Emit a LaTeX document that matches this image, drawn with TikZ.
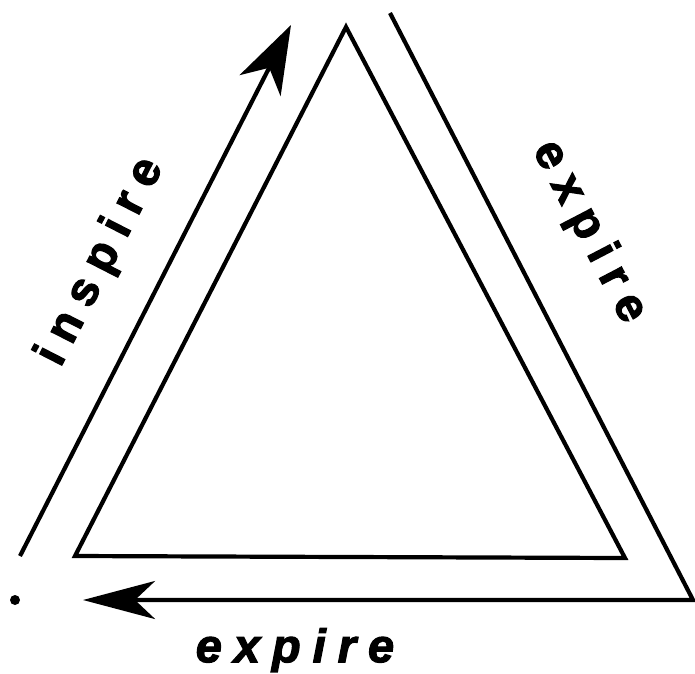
\documentclass[tikz,border=0pt]{standalone}
\usepackage{fontspec}
\setmainfont{Liberation Sans}
\newfontfamily\heavy{Liberation Sans Bold}[FakeBold=2.5, LetterSpace=25.5]
\newfontfamily\heavyit{Liberation Sans Bold Italic}[FakeBold=2.5, LetterSpace=25.5]
\usetikzlibrary{arrows.meta}
\tikzset{
  line/.style={line width=4.2pt, line join=miter},
  lbl/.style={font=\fontsize{47}{50}\heavy, inner sep=0pt},
}
\begin{document}
\begin{tikzpicture}[x=1pt, y=-1pt]
\useasboundingbox (0,0) rectangle (695,673);
% inner triangle
\coordinate (A) at (346,27);
\coordinate (B) at (75,556);
\coordinate (C) at (625,558);
\draw[line] (A) -- (B) -- (C) -- cycle;
% outer path
\coordinate (L0) at (20,556);
\coordinate (L1) at (291,25);
\coordinate (R0) at (390,13);
\coordinate (R1) at (693,600);
\coordinate (R2) at (83,600);
\draw[line, -{Stealth[length=68pt, width=46pt, inset=20pt]}] (L0) -- (L1);
\draw[line, -{Stealth[length=72pt, width=38pt, inset=20pt]}] (R0) -- (R1) -- (R2);
\fill (15,600) circle (5pt) coordinate (dot);
% labels
\node[lbl, rotate=62.9] (ins) at (101,262) {inspire};
\node[lbl, rotate=-62.5] (exr) at (589,232) {expire};
\node[lbl, font=\fontsize{47}{50}\heavyit] (exb) at (295,650) {expire};
\end{tikzpicture}
\end{document}
